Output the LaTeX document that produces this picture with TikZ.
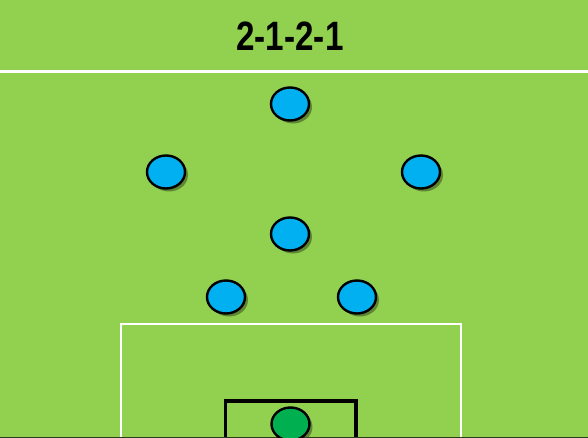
\documentclass[tikz,border=0pt]{standalone}
\usepackage{fontspec}
\setmainfont{Liberation Sans}
\usetikzlibrary{shapes.geometric,shadows}

\definecolor{pitch}{HTML}{92D050}
\definecolor{outfield}{HTML}{00B0F0}
\definecolor{keeper}{HTML}{00B050}

\tikzset{
  player/.style={ellipse, draw=black, line width=2.4pt, fill=outfield,
    minimum width=38pt, minimum height=33pt, inner sep=0pt,
    drop shadow={shadow xshift=3pt, shadow yshift=-3pt, fill=black!70!pitch, opacity=0.5}},
  goalie/.style={player, fill=keeper}
}

\begin{document}
\begin{tikzpicture}[x=1pt, y=-1pt]
  \useasboundingbox (0,0) rectangle (588,438);
  \clip (0,0) rectangle (588,438);
  \fill[pitch] (0,0) rectangle (588,438);
  \node (title) at (290,36) [font=\fontsize{41}{41}\selectfont\bfseries, xscale=0.81] {2-1-2-1};
  \draw[white, line width=3pt] (0,72) -- (588,72);
  % boxes
  \begin{scope}[white, line width=2.4pt]
    \draw (121,445) |- (461,324) -- (461,445);
  \end{scope}
  \begin{scope}[black, line width=3.2pt]
    \draw (225.5,445) |- (356,401) -- (356,445);
  \end{scope}
  \draw[black!70!pitch, line width=1.6pt] (0,437.4) -- (588,437.4);
  % players
  \node[player] (striker) at (290,104) {};
  \node[player] (leftwing) at (166,172) {};
  \node[player] (rightwing) at (421,172) {};
  \node[player] (midfield) at (290,234) {};
  \node[player] (leftback) at (226,297) {};
  \node[player] (rightback) at (357,297) {};
  \node[goalie] (keeper) at (290.5,424) {};
\end{tikzpicture}
\end{document}
